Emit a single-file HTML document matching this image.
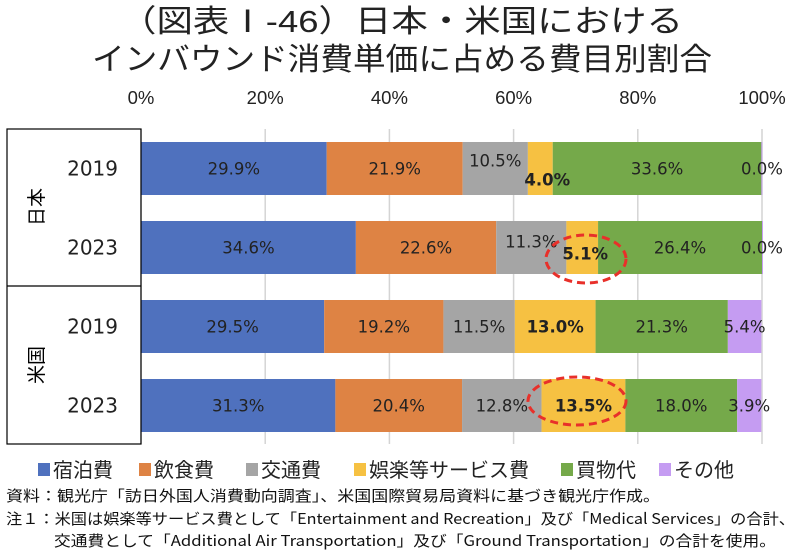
<!DOCTYPE html>
<html><head><meta charset="utf-8"><style>
body{margin:0;background:#fff;width:800px;height:551px;overflow:hidden;font-family:"Liberation Sans","Noto Sans CJK JP",sans-serif;}
</style></head><body>
<svg id="chart" width="800" height="551" viewBox="0 0 800 551" xmlns="http://www.w3.org/2000/svg">
<text x="120" y="32" textLength="563" lengthAdjust="spacingAndGlyphs" font-size="31" fill="#222" font-family="Liberation Sans, Noto Sans CJK JP, sans-serif">（図表Ⅰ-46）日本・米国における</text>
<text x="92" y="70" textLength="620" lengthAdjust="spacingAndGlyphs" font-size="31" fill="#222" font-family="Liberation Sans, Noto Sans CJK JP, sans-serif">インバウンド消費単価に占める費目別割合</text>
<g id="grid"></g>
<g id="bars"></g>
<g id="labels"></g>
<rect x="7" y="129" width="134" height="315" fill="none" stroke="#000" stroke-width="1.2"/>
<line x1="7" y1="286" x2="141" y2="286" stroke="#000" stroke-width="1.2"/>
<text x="38" y="207" font-size="19" text-anchor="middle" transform="rotate(-90 38 207)" dominant-baseline="middle" font-family="Noto Sans CJK JP, sans-serif">日本</text>
<text x="38" y="365" font-size="19" text-anchor="middle" transform="rotate(-90 38 365)" dominant-baseline="middle" font-family="Noto Sans CJK JP, sans-serif">米国</text>
<ellipse cx="586" cy="259" rx="40" ry="24" fill="none" stroke="#e8302a" stroke-width="3" stroke-dasharray="8,5"/>
<ellipse cx="577" cy="401" rx="49" ry="24" fill="none" stroke="#e8302a" stroke-width="3" stroke-dasharray="8,5"/>
<g id="legend"></g>
<text x="6" y="501" textLength="654" lengthAdjust="spacingAndGlyphs" font-size="15" fill="#111" font-family="Noto Sans CJK JP, sans-serif">資料：観光庁「訪日外国人消費動向調査」、米国国際貿易局資料に基づき観光庁作成。</text>
<text x="6" y="524" textLength="789" lengthAdjust="spacingAndGlyphs" font-size="15" fill="#111" font-family="Noto Sans CJK JP, sans-serif">注１：米国は娯楽等サービス費として「Entertainment and Recreation」及び「Medical Services」の合計、</text>
<text x="54" y="546" textLength="722" lengthAdjust="spacingAndGlyphs" font-size="15" fill="#111" font-family="Noto Sans CJK JP, sans-serif">交通費として「Additional Air Transportation」及び「Ground Transportation」の合計を使用。</text>
</svg>
<script>
const categories = ["2019", "2023", "2019", "2023"];
const seriesNames = ["宿泊費", "飲食費", "交通費", "娯楽等サービス費", "買物代", "その他"];
const lodging = [29.9, 34.6, 29.5, 31.3];
const food = [21.9, 22.6, 19.2, 20.4];
const transport = [10.5, 11.3, 11.5, 12.8];
const entertainment = [4.0, 5.1, 13.0, 13.5];
const shopping = [33.6, 26.4, 21.3, 18.0];
const other = [0.0, 0.0, 5.4, 3.9];
const tickValues = [0, 20, 40, 60, 80, 100];
const tickLabels = ["0%", "20%", "40%", "60%", "80%", "100%"];

const series = [lodging, food, transport, entertainment, shopping, other];
const colors = ["#4f71be", "#de8344", "#a5a5a5", "#f6c142", "#75a94a", "#c59cf2"];
const X0 = 141, X1 = 762;
const xs = v => X0 + (X1 - X0) * v / 100;
const rowTop = [142, 221, 300, 379], barH = 53;
const ns = "http://www.w3.org/2000/svg";
function mk(tag, attrs, parent){const e=document.createElementNS(ns,tag);for(const k in attrs)e.setAttribute(k,attrs[k]);parent.appendChild(e);return e;}
const grid = document.getElementById('grid'), bars = document.getElementById('bars'), labels = document.getElementById('labels'), legend = document.getElementById('legend');

tickValues.forEach((t,i)=>{
  const l = mk('line',{x1:xs(t),x2:xs(t),y1:129,y2:444,stroke:'#d4d4d4','stroke-width':1.5},grid);
  
  
  const tx = mk('text',{x:xs(t),y:104,'text-anchor':'middle','font-size':18.5,fill:'#222'},grid);
  tx.textContent = tickLabels[i];
  
  
});

categories.forEach((c,r)=>{
  const ct = mk('text',{x:118,y:rowTop[r]+barH/2+7,'text-anchor':'end','font-size':20,fill:'#222','font-family':'DejaVu Sans, sans-serif'},labels);
  ct.textContent = c;
  
  
  let acc = 0;
  series.forEach((s,k)=>{
    const v = s[r];
    const rc = mk('rect',{x:xs(acc),y:rowTop[r],width:Math.max(xs(acc+v)-xs(acc),v>0?0:1),height:barH,fill:colors[k]},bars);
    
    
    let cx = (xs(acc)+xs(acc+v))/2, cy = rowTop[r]+barH/2+6;
    if(k===5 && v===0) cx = X1;
    const bold = (k===3);
    if(r===0 && k===2) cy -= 8;
    if(r===0 && k===3){cy += 11; cx += 7;}
    if(r===1 && k===2) cy -= 6;
    if(r===1 && k===3){cy += 6; cx += 3;}
    const t = mk('text',{x:cx,y:cy,'text-anchor':'middle','font-size':16.5,fill:'#222','font-weight':bold?'bold':'normal','font-family':'DejaVu Sans, sans-serif'},labels);
    t.textContent = v.toFixed(1)+'%';
    
    
    acc += v;
  });
});

const legX = [38, 139, 246, 354, 561, 659];
seriesNames.forEach((n,k)=>{
  const g = mk('g',{},legend);
  
  
  mk('rect',{x:legX[k],y:463,width:12,height:13,fill:colors[k]},g);
  const t = mk('text',{x:legX[k]+15,y:477,'font-size':20,fill:'#222','font-family':'Noto Sans CJK JP, sans-serif'},g);
  t.textContent = n;
});
</script>
</body></html>
